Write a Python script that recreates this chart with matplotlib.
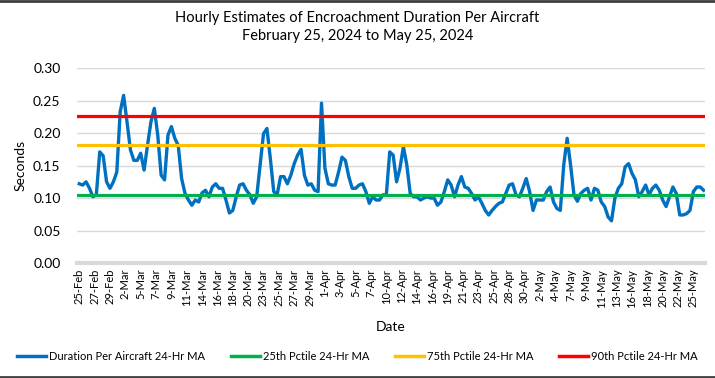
import numpy as np
import matplotlib
matplotlib.use("Agg")
import matplotlib.pyplot as plt
from matplotlib.lines import Line2D

plt.rcParams['font.family'] = ['Lato', 'DejaVu Sans']

# ---------- Data (one value every 12 hours from 25-Feb) ----------
duration_ma = [
    0.122, 0.120, 0.125, 0.115, 0.102, 0.105, 0.171, 0.165, 0.125, 0.115,
    0.125, 0.140, 0.233, 0.258, 0.217, 0.174, 0.158, 0.158, 0.169, 0.143,
    0.181, 0.217, 0.238, 0.197, 0.135, 0.128, 0.197, 0.210, 0.192, 0.181,
    0.130, 0.107, 0.097, 0.089, 0.097, 0.094,
    0.108, 0.112, 0.102, 0.117, 0.122, 0.115, 0.115, 0.097, 0.077, 0.081,
    0.102, 0.120, 0.122, 0.112, 0.105, 0.092, 0.102, 0.151, 0.199, 0.207,
    0.161, 0.110, 0.105, 0.133, 0.133, 0.122, 0.135, 0.153, 0.166, 0.175,
    0.135, 0.120, 0.122, 0.112, 0.110, 0.246,
    0.146, 0.122, 0.120, 0.120, 0.140, 0.163, 0.158, 0.133, 0.115, 0.115,
    0.120, 0.122, 0.110, 0.092, 0.102, 0.097, 0.097, 0.105, 0.105, 0.171,
    0.166, 0.125, 0.146, 0.179, 0.151, 0.107, 0.102, 0.102, 0.097, 0.100,
    0.102, 0.100, 0.100, 0.089, 0.094, 0.110,
    0.128, 0.120, 0.102, 0.120, 0.133, 0.117, 0.115, 0.107, 0.097, 0.102,
    0.092, 0.081, 0.074, 0.081, 0.087, 0.092, 0.094, 0.107, 0.120, 0.122,
    0.105, 0.102, 0.115, 0.130, 0.110, 0.081, 0.097, 0.097, 0.097, 0.110,
    0.117, 0.094, 0.084, 0.081, 0.151, 0.192,
    0.151, 0.105, 0.095, 0.107, 0.112, 0.115, 0.097, 0.115, 0.112, 0.094,
    0.087, 0.071, 0.065, 0.100, 0.115, 0.122, 0.148, 0.153, 0.138, 0.128,
    0.102, 0.110, 0.120, 0.105, 0.115, 0.120, 0.112, 0.097, 0.087, 0.102,
    0.117, 0.107, 0.074, 0.074, 0.076, 0.081, 0.110, 0.117, 0.117, 0.112,
]
step_days = 0.5

p25 = 0.105
p75 = 0.182
p90 = 0.227

# labels every 54 hours
tick_labels = [
    "25-Feb", "27-Feb", "29-Feb", "2-Mar", "5-Mar", "7-Mar", "9-Mar", "11-Mar",
    "14-Mar", "16-Mar", "18-Mar", "20-Mar", "23-Mar", "25-Mar", "27-Mar", "29-Mar",
    "1-Apr", "3-Apr", "5-Apr", "7-Apr", "10-Apr", "12-Apr", "14-Apr", "16-Apr",
    "19-Apr", "21-Apr", "23-Apr", "25-Apr", "28-Apr", "30-Apr", "2-May", "4-May",
    "7-May", "9-May", "11-May", "13-May", "16-May", "18-May", "20-May", "22-May",
    "25-May",
]
tick_step_days = 2.25

# ---------- Plot ----------
x = np.arange(len(duration_ma)) * step_days

fig = plt.figure(figsize=(7.15, 3.78), dpi=100)
ax = fig.add_axes([0.108, 0.304, 0.878, 0.516])

ax.plot(x, duration_ma, color="#0070C0", lw=2.4, solid_joinstyle="round")
ax.axhline(p25, color="#00B050", lw=2.3)
ax.axhline(p75, color="#FFC000", lw=2.3)
ax.axhline(p90, color="#FF0000", lw=2.3)

ax.set_ylim(0, 0.30)
ax.set_yticks(np.arange(0, 0.301, 0.05))
ax.set_yticklabels([f"{v:.2f}" for v in np.arange(0, 0.301, 0.05)], fontsize=10)
ax.set_xlim(-0.3, 91.7)
ax.set_xticks(np.arange(len(tick_labels)) * tick_step_days)
ax.set_xticklabels(tick_labels, rotation=90, fontsize=8)
ax.tick_params(length=0, pad=4)
ax.tick_params(axis="y", pad=12)

ax.grid(axis="y", color="#D9D9D9", lw=1)
ax.set_axisbelow(True)
for s in ["top", "right", "left"]:
    ax.spines[s].set_visible(False)
ax.spines["bottom"].set_color("#D9D9D9")
ax.spines["bottom"].set_linewidth(3)

ax.set_ylabel("Seconds", fontsize=10, labelpad=5)
ax.set_xlabel("Date", fontsize=10, labelpad=10)

fig.text(0.5, 0.972, "Hourly Estimates of Encroachment Duration Per Aircraft\nFebruary 25, 2024 to May 25, 2024",
         ha="center", va="top", fontsize=10.5, linespacing=1.4)

handles = [
    Line2D([], [], color="#0070C0", lw=2.5),
    Line2D([], [], color="#00B050", lw=2.5),
    Line2D([], [], color="#FFC000", lw=2.5),
    Line2D([], [], color="#FF0000", lw=2.5),
]
names = ["Duration Per Aircraft 24-Hr MA", "25th Pctile 24-Hr MA",
         "75th Pctile 24-Hr MA", "90th Pctile 24-Hr MA"]
fig.legend(handles, names, loc="center", bbox_to_anchor=(0.5, 0.058), ncol=4,
           frameon=False, fontsize=8, handlelength=2.6, handletextpad=0.3,
           columnspacing=2.3)

# dark border lines top and bottom of the picture
fig.add_artist(Line2D([0, 1], [0.997, 0.997], color="#404040", lw=2, transform=fig.transFigure))
fig.add_artist(Line2D([0, 1], [0.003, 0.003], color="#404040", lw=2, transform=fig.transFigure))

fig.savefig("out.png", dpi=100)
